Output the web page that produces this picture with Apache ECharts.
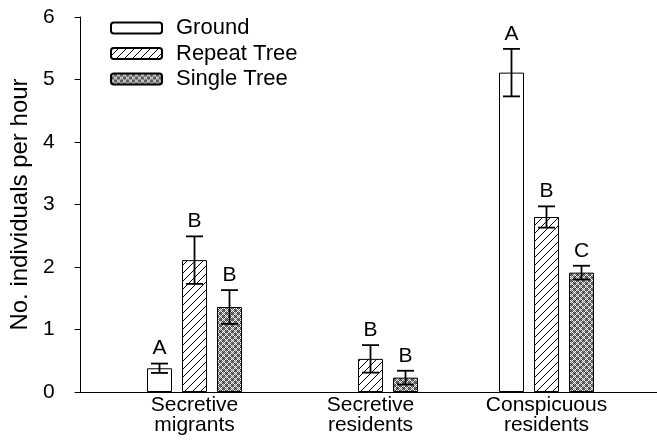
<!DOCTYPE html>
<html>
<head>
<meta charset="utf-8">
<script src="https://cdn.jsdelivr.net/npm/echarts@6/dist/echarts.min.js"></script>
<style>
  html, body { margin: 0; padding: 0; background: #fff; }
  #chart { width: 657px; height: 441px; }
</style>
</head>
<body>
<div id="chart"></div>
<script>
// Bird counts per habitat group, by survey location
const categories = ['Secretive\nmigrants', 'Secretive\nresidents', 'Conspicuous\nresidents'];
const seriesNames = ['Ground', 'Repeat Tree', 'Single Tree'];

const groundMean = [0.38, '-', 5.11];
const groundErr = [0.075, '-', 0.38];
const groundLetters = ['A', '', 'A'];

const repeatMean = [2.11, 0.53, 2.80];
const repeatErr = [0.38, 0.22, 0.17];
const repeatLetters = ['B', 'B', 'B'];

const singleMean = [1.36, 0.23, 1.91];
const singleErr = [0.27, 0.11, 0.11];
const singleLetters = ['B', 'B', 'C'];

const yTicks = [0, 1, 2, 3, 4, 5, 6];

const FONT = '"Liberation Sans", Arial, sans-serif';
const BAR_W = 25;
const BAR_GAP = 10;

// Diagonal hatch fill
function hatchPattern() {
  const c = document.createElement('canvas');
  c.width = 8; c.height = 8;
  const g = c.getContext('2d');
  g.fillStyle = '#fff';
  g.fillRect(0, 0, 8, 8);
  g.strokeStyle = '#000';
  g.lineWidth = 1;
  g.beginPath();
  g.moveTo(-1, 9); g.lineTo(9, -1);
  g.moveTo(-1, 1); g.lineTo(1, -1);
  g.moveTo(7, 9); g.lineTo(9, 7);
  g.stroke();
  return c;
}

// Fine checkered gray fill
function dotPattern() {
  const rows = [
    'W.WD.D',
    '.W..D.',
    'W.WD.D',
    'D.DW.W',
    '.D..W.',
    'D.DW.W'
  ];
  const shade = { 'W': 255, '.': 130, 'D': 60 };
  const c = document.createElement('canvas');
  c.width = 6; c.height = 6;
  const g = c.getContext('2d');
  const img = g.createImageData(6, 6);
  for (let y = 0; y < 6; y++) {
    for (let x = 0; x < 6; x++) {
      const v = shade[rows[y][x]];
      const i = (y * 6 + x) * 4;
      img.data[i] = v; img.data[i + 1] = v; img.data[i + 2] = v; img.data[i + 3] = 255;
    }
  }
  g.putImageData(img, 0, 0);
  return c;
}

const fills = [
  '#ffffff',
  { image: hatchPattern(), repeat: 'repeat' },
  { image: dotPattern(), repeat: 'repeat' }
];

const means = [groundMean, repeatMean, singleMean];
const errs = [groundErr, repeatErr, singleErr];
const letters = [groundLetters, repeatLetters, singleLetters];

function barSeries(k) {
  return {
    name: seriesNames[k],
    type: 'bar',
    xAxisIndex: 1,
    yAxisIndex: 1,
    barWidth: BAR_W,
    barGap: (BAR_GAP / BAR_W * 100) + '%',
    data: means[k],
    itemStyle: { color: fills[k], borderColor: '#000', borderWidth: 1 },
    emphasis: { disabled: true },
    animation: false,
    z: 2
  };
}

function errorSeries(k) {
  const offset = (k - 1) * (BAR_W + BAR_GAP);
  const data = means[k].map((m, i) => m === '-' ? null : [i, m, errs[k][i], letters[k][i]]).filter(d => d);
  return {
    type: 'custom',
    xAxisIndex: 1,
    yAxisIndex: 1,
    data: data,
    silent: true,
    animation: false,
    z: 5,
    renderItem: function (params, api) {
      const cat = api.value(0);
      const m = api.value(1);
      const e = api.value(2);
      const letter = data[params.dataIndex][3];
      const top = api.coord([cat, m + e]);
      const bot = api.coord([cat, m - e]);
      const x = top[0] + offset;
      const cap = 8.5;
      const line = { stroke: '#000', lineWidth: 1.8 };
      return {
        type: 'group',
        children: [
          { type: 'line', shape: { x1: x, y1: top[1], x2: x, y2: bot[1] }, style: line },
          { type: 'line', shape: { x1: x - cap, y1: top[1], x2: x + cap, y2: top[1] }, style: line },
          { type: 'line', shape: { x1: x - cap, y1: bot[1], x2: x + cap, y2: bot[1] }, style: line },
          {
            type: 'text',
            x: x, y: top[1] - 15,
            style: {
              text: letter, fill: '#000',
              font: '21px ' + FONT,
              align: 'center', verticalAlign: 'middle'
            }
          }
        ]
      };
    }
  };
}

const chart = echarts.init(document.getElementById('chart'), null, { renderer: 'canvas' });
chart.setOption({
  animation: false,
  backgroundColor: '#fff',
  textStyle: { fontFamily: FONT, color: '#000' },
  legend: {
    orient: 'vertical',
    left: 105,
    top: 12,
    padding: 5,
    itemWidth: 51,
    itemHeight: 11,
    itemGap: 3.5,
    selectedMode: false,
    data: seriesNames,
    textStyle: { fontSize: 22, lineHeight: 20, color: '#000', fontFamily: FONT, padding: [0, 0, 0, 9] }
  },
  grid: [
    { left: 80, right: 0, top: 17, bottom: 49 },
    { left: 106.5, right: 22.5, top: 17, bottom: 49 }
  ],
  xAxis: [
    {
      gridIndex: 0, type: 'value', min: 0, max: 1,
      axisLine: { show: true, lineStyle: { color: '#000', width: 1 } },
      axisTick: { show: false }, axisLabel: { show: false }, splitLine: { show: false }
    },
    {
      gridIndex: 1, type: 'category', data: categories,
      axisLine: { show: false }, axisTick: { show: false }, splitLine: { show: false },
      axisLabel: {
        margin: 3, fontSize: 21, lineHeight: 20, color: '#000', fontFamily: FONT,
        interval: 0
      }
    }
  ],
  yAxis: [
    {
      gridIndex: 0, type: 'value', min: 0, max: 6, interval: 1,
      name: 'No. individuals per hour',
      nameLocation: 'middle', nameGap: 41,
      nameTextStyle: { fontSize: 24, color: '#000', fontFamily: FONT },
      axisLine: { show: true, lineStyle: { color: '#000', width: 1 } },
      axisTick: { show: true, length: 6, lineStyle: { color: '#000', width: 1 } },
      axisLabel: {
        margin: 26, fontSize: 21, color: '#000', fontFamily: FONT,
        formatter: v => yTicks.includes(v) ? String(v) : ''
      },
      splitLine: { show: false }
    },
    {
      gridIndex: 1, type: 'value', min: 0, max: 6, interval: 1, show: false
    }
  ],
  series: [
    barSeries(0), barSeries(1), barSeries(2),
    errorSeries(0), errorSeries(1), errorSeries(2)
  ]
});
</script>
</body>
</html>
